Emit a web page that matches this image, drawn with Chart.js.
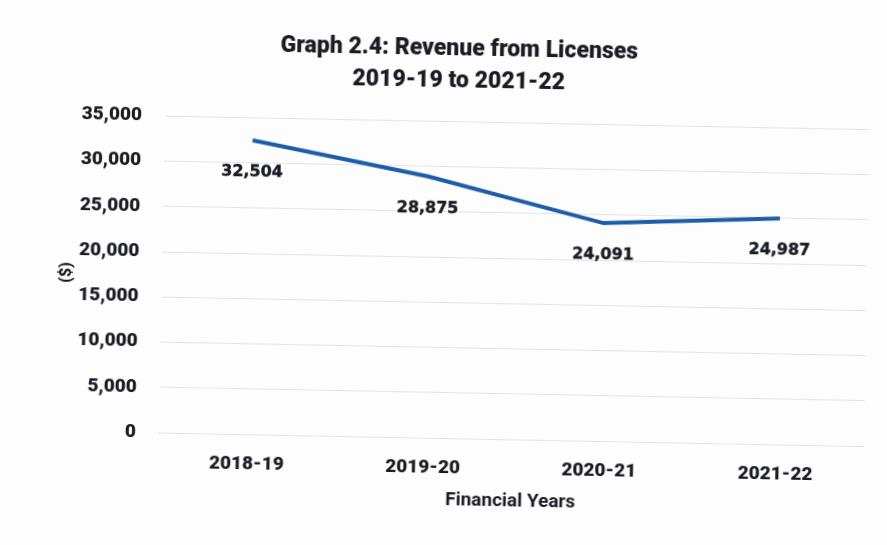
<!DOCTYPE html>
<html>
<head>
<meta charset="utf-8">
<script src="https://cdn.jsdelivr.net/npm/chart.js@4/dist/chart.umd.min.js"></script>
<style>
  html, body { margin: 0; padding: 0; background: #fdfdfd; overflow: hidden; }
  #frame { position: relative; width: 887px; height: 545px; transform: rotate(1.1deg); transform-origin: 50% 50%; }
  canvas { display: block; }
</style>
</head>
<body>
<div id="frame"><canvas id="chart" width="887" height="545"></canvas></div>
<script>
// Licence revenue by financial year
const years = ['2018-19', '2019-20', '2020-21', '2021-22'];
const revenue = [32504, 28875, 24091, 24987];
const yTicks = [0, 5000, 10000, 15000, 20000, 25000, 30000, 35000];
const titleLines = ['Graph 2.4: Revenue from Licenses', '2019-19 to 2021-22'];

const ink = '#1a1b25';
const face = 'Roboto, "Liberation Sans", sans-serif';

// Writes each value just below its point on the line
const valueLabels = {
  id: 'valueLabels',
  afterDatasetsDraw(chart) {
    const ctx = chart.ctx;
    const meta = chart.getDatasetMeta(0);
    ctx.save();
    ctx.font = 'bold 16px "DejaVu Sans", sans-serif';
    ctx.fillStyle = ink;
    ctx.strokeStyle = ink;
    ctx.lineWidth = 0.4;
    ctx.textAlign = 'center';
    ctx.textBaseline = 'middle';
    meta.data.forEach((pt, i) => {
      const txt = revenue[i].toLocaleString('en-US');
      ctx.fillText(txt, pt.x, pt.y + 32);
      ctx.strokeText(txt, pt.x, pt.y + 32);
    });
    ctx.restore();
  }
};

new Chart(document.getElementById('chart'), {
  type: 'line',
  data: {
    labels: years,
    datasets: [{
      data: revenue,
      borderColor: '#1d5ca7',
      borderWidth: 4,
      pointRadius: 0,
      tension: 0,
      fill: false
    }]
  },
  options: {
    responsive: false,
    animation: false,
    layout: { padding: { left: 43, right: 20, top: 0, bottom: 0 } },
    plugins: {
      legend: { display: false },
      tooltip: { enabled: false },
      title: {
        display: true,
        text: titleLines,
        color: ink,
        font: { family: face, size: 23, weight: '900', lineHeight: 1.4 },
        padding: { top: 33, bottom: 24 }
      }
    },
    scales: {
      x: {
        offset: true,
        grid: { display: false, drawTicks: false },
        border: { display: false },
        ticks: { color: ink, padding: 19, font: { family: face, size: 19, weight: '900' } },
        title: {
          display: true,
          text: 'Financial Years',
          color: ink,
          font: { family: face, size: 19, weight: 'bold' },
          padding: { top: 10, bottom: 33 }
        },
        afterFit(scale) { scale.height = 107; }
      },
      y: {
        min: 0,
        max: 35000,
        afterBuildTicks(scale) { scale.ticks = yTicks.map(v => ({ value: v })); },
        grid: { color: '#e4e4e6', lineWidth: 1, drawTicks: false },
        border: { display: false },
        ticks: {
          color: ink,
          padding: 23,
          font: { family: face, size: 19, weight: '900' },
          callback: v => v.toLocaleString('en-US')
        },
        title: {
          display: true,
          text: '($)',
          color: ink,
          font: { family: face, size: 16, weight: '900' },
          padding: { top: 14, bottom: 0 }
        },
        afterFit(scale) { scale.width = 119; }
      }
    }
  },
  plugins: [valueLabels]
});
</script>
</body>
</html>
